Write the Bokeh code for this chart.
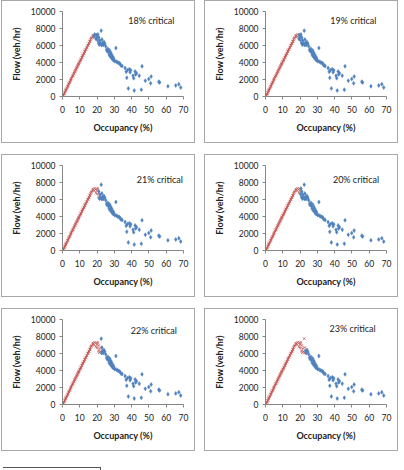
from bokeh.plotting import figure
from bokeh.layouts import column, row
from bokeh.models import Range1d, FixedTicker, Label, Div
from bokeh.embed import file_html
from bokeh.resources import INLINE

# Free-flow branch (occupancy %, flow veh/hr)
free_occ = [0.2, 0.5, 0.8, 1.0, 1.3, 1.5, 1.8, 2.0, 2.3, 2.6, 2.9, 3.1, 3.4, 3.7, 4.0,
            4.2, 4.5, 4.8, 5.0, 5.3, 5.6, 5.9, 6.1, 6.4, 6.7, 7.0, 7.2, 7.5, 7.8, 8.1,
            8.3, 8.6, 8.9, 9.2, 9.4, 9.7, 10.0, 10.3, 10.5, 10.8, 11.1, 11.4, 11.6, 11.9,
            12.2, 12.5, 12.8, 13.0, 13.3, 13.6, 13.9, 14.2, 14.5, 14.8, 15.1, 15.4, 15.7,
            16.0, 16.3, 16.6, 17.0, 17.4, 17.8, 18.2, 18.6]
free_flow = [60, 150, 250, 330, 480, 560, 700, 780, 900, 1020, 1150, 1230, 1380, 1490, 1620,
             1700, 1850, 1940, 2080, 2150, 2300, 2420, 2480, 2640, 2730, 2880, 2950, 3090, 3180, 3340,
             3400, 3540, 3650, 3790, 3860, 3980, 4120, 4200, 4330, 4420, 4580, 4650, 4790, 4880,
             5020, 5100, 5270, 5330, 5480, 5560, 5720, 5800, 5980, 6050, 6200, 6280, 6450,
             6520, 6700, 6850, 6950, 7100, 7200, 7050, 7300]

# Congested branch
cong_occ = [19.3, 19.6, 19.9, 20.2, 20.5, 20.8, 21.0, 21.3, 21.6, 21.9, 22.4, 22.6, 22.8, 23.1,
            23.5, 24.0, 24.5, 25.0, 25.5, 25.8, 26.3, 26.6, 27.0, 27.3, 27.6, 27.9, 28.2, 28.4,
            28.7, 29.0, 29.3, 29.6, 29.9, 30.3, 30.9, 31.3, 32.0, 32.7, 33.2, 33.8, 34.5, 36.2,
            36.8, 37.2, 37.5, 38.1, 38.6, 39.1, 39.5, 40.8, 41.2, 41.5, 42.0, 42.3, 42.8, 44.4,
            45.6, 46.0, 47.9, 49.9, 51.0, 51.3, 55.7, 56.2, 61.0, 65.5, 67.3, 68.4]
cong_flow = [6800, 7250, 7050, 6650, 7300, 6300, 6950, 6100, 6600, 6250, 7750, 6050, 6700, 6300,
             6050, 6400, 6200, 5900, 5500, 5350, 5600, 5200, 4900, 5400, 4750, 5150, 4600, 4950,
             4450, 4700, 4300, 4500, 4250, 4150, 5700, 4100, 4000, 3950, 3850, 3650, 3600, 3350,
             2900, 2200, 3100, 950, 3200, 2850, 3100, 2450, 2150, 700, 2950, 2600, 2750, 2450,
             800, 3550, 1850, 2050, 1550, 2350, 1750, 1650, 1200, 1300, 1450, 1050]

critical_values = [18, 19, 21, 20, 22, 23]
panel_titles = ["18% critical", "19% critical", "21% critical",
                "20% critical", "22% critical", "23% critical"]
x_ticks = [0, 10, 20, 30, 40, 50, 60, 70]
y_ticks = [0, 2000, 4000, 6000, 8000, 10000]

label_pos = [(38, 9000), (37.5, 9000), (43, 8300), (39, 8400), (39.5, 8650), (37, 8900)]

occ_all = free_occ + cong_occ
flow_all = free_flow + cong_flow

FONT = "Lato"
TXT = "#222222"


def make_panel(crit, title, pos):
    p = figure(width=194, height=143, x_range=Range1d(0, 70), y_range=Range1d(0, 10000),
               output_backend="svg", toolbar_location=None,
               min_border_left=60, min_border_right=13, min_border_top=10, min_border_bottom=48,
               styles={"border": "1px solid #a8a8a8"})
    p.outline_line_color = None
    p.grid.visible = False
    p.background_fill_color = "white"
    p.border_fill_color = "white"

    ro = [o for o, f in zip(occ_all, flow_all) if o < crit]
    rf = [f for o, f in zip(occ_all, flow_all) if o < crit]
    bo = [o for o, f in zip(occ_all, flow_all) if o >= crit]
    bf = [f for o, f in zip(occ_all, flow_all) if o >= crit]
    p.scatter(ro, rf, marker="x", size=3.5, line_color="#C0504D", line_width=1, line_alpha=0.8)
    p.scatter(bo, bf, marker="diamond", size=4, fill_color="#4F81BD", line_color="#4F81BD",
              line_width=0.5)

    p.xaxis.ticker = FixedTicker(ticks=x_ticks)
    p.yaxis.ticker = FixedTicker(ticks=y_ticks)
    for ax in (p.xaxis, p.yaxis):
        ax.axis_line_color = "#868686"
        ax.major_tick_line_color = "#868686"
        ax.major_tick_out = 3
        ax.major_tick_in = 0
        ax.minor_tick_line_color = None
        ax.major_label_text_font = FONT
        ax.major_label_text_font_size = "8.5px"
        ax.major_label_text_color = TXT
        ax.axis_label_text_font = FONT
        ax.axis_label_text_font_size = "9px"
        ax.axis_label_text_font_style = "bold"
        ax.axis_label_text_color = TXT
    p.xaxis.axis_label = "Occupancy (%)"
    p.yaxis.axis_label = "Flow (veh/hr)"
    p.xaxis.major_label_standoff = 6
    p.xaxis.axis_label_standoff = 6
    p.yaxis.major_label_standoff = 4
    p.yaxis.axis_label_standoff = 6

    p.add_layout(Label(x=pos[0], y=pos[1], text=title, text_font=FONT, text_font_size="9px",
                       text_color=TXT, text_baseline="middle"))
    return p


panels = [make_panel(c, t, pos) for c, t, pos in zip(critical_values, panel_titles, label_pos)]

grid = column(
    row(panels[0], panels[1], spacing=9),
    row(panels[2], panels[3], spacing=9),
    row(panels[4], panels[5], spacing=9),
    spacing=11,
    margin=(0, 0, 0, 1),
)
stub = Div(width=98, height=4, margin=(16, 0, 0, 3),
           styles={"border-top": "1px solid #555", "border-right": "1px solid #555"})
layout = column(grid, stub, spacing=0, margin=(0, 0, 0, 0))

open("out.html", "w").write(file_html(layout, INLINE))
